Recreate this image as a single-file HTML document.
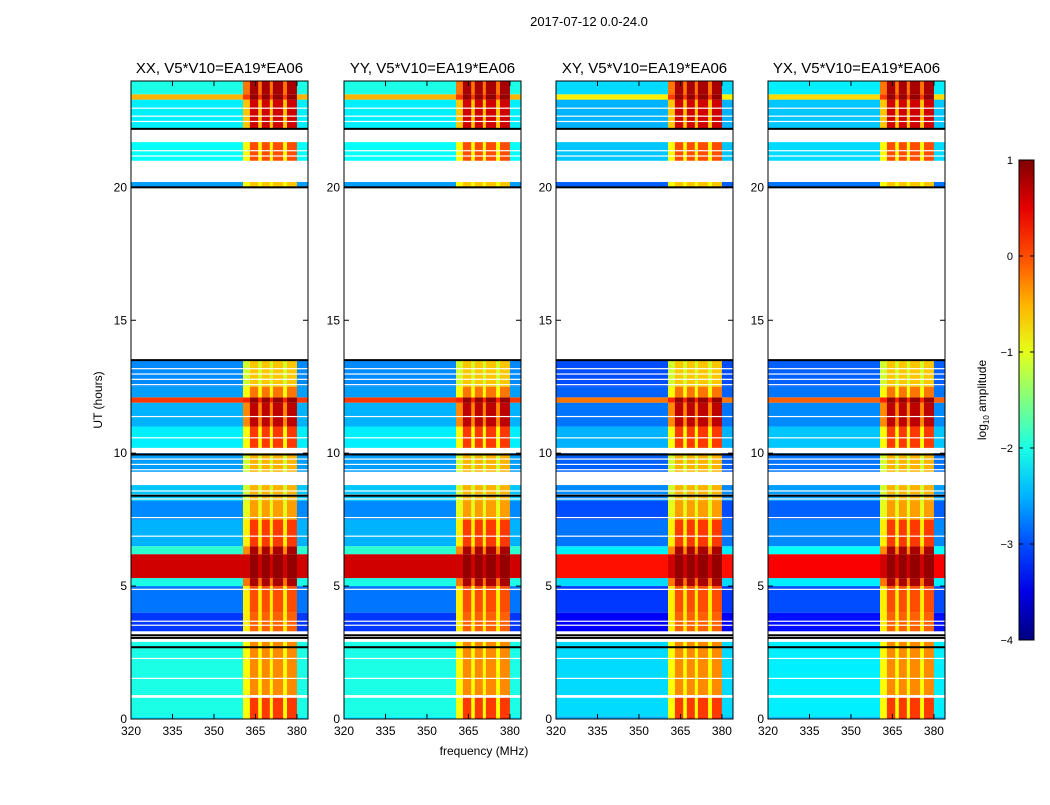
<!DOCTYPE html>
<html><head><meta charset="utf-8"><style>
body{margin:0;background:#fff;font-family:"Liberation Sans",sans-serif;}
svg text{font-family:"Liberation Sans",sans-serif;}
</style></head><body>
<svg id="chart" width="1050" height="800" xmlns="http://www.w3.org/2000/svg">
<rect width="1050" height="800" fill="#fff"/>
<text x="589" y="26" font-size="13" text-anchor="middle">2017-07-12 0.0-24.0</text>
<g id="panels"></g>
<text x="484" y="755" font-size="12" text-anchor="middle">frequency (MHz)</text>
<text transform="translate(102,400) rotate(-90)" font-size="12" text-anchor="middle">UT (hours)</text>
<g id="cbar"></g>
</svg>
<script>
const panelTitles=["XX, V5*V10=EA19*EA06","YY, V5*V10=EA19*EA06","XY, V5*V10=EA19*EA06","YX, V5*V10=EA19*EA06"];
const panelLeft=[131,344,556,768];
const bgOffset=[0,0,-0.3,-0.2];
const freqEdges=[320,360.5,363,366,367.3,370.2,371.3,375,376.4,380,384];
const colType=[0,1,2,1,2,1,2,1,2,0];
const rowStart=[0,0.1,0.9,3.3,4.0,5.0,5.3,6.2,6.5,7.5,8.2,9.3,10.2,11.0,11.9,12.1,12.5,20.0,21.0,22.2,23.3,23.5];
const rowEnd=[0.1,0.8,2.9,4.0,5.0,5.3,6.2,6.5,7.5,8.2,8.8,10.0,11.0,11.9,12.1,12.5,13.5,20.2,21.7,23.3,23.5,24.0];
const rowBg=[-2.2,-2.0,-2.0,-3.1,-2.8,-2.0,0.6,-1.9,-2.5,-2.7,-2.4,-2.6,-2.2,-2.5,0.1,-2.6,-2.7,-2.6,-2.1,-2.2,-0.5,-2.0];
const rowRfi=[0.2,0.1,-0.3,-0.1,0,0.8,0.9,0.8,0.1,-0.4,-0.5,-0.5,0.1,0.7,0.9,-0.2,-0.6,-0.6,0,0.6,0.9,0.8];
const rowGap=[-0.8,-0.9,-0.9,-0.8,-0.8,-0.2,0.6,-0.3,-0.8,-1,-1.1,-1.1,-0.9,-0.3,0.2,-0.9,-1.1,-0.9,-0.9,-0.6,0.1,-0.2];
const whiteLines=[0.85,1.55,2.3,3.55,3.7,4.9,6.9,7.6,8.3,8.45,8.6,9.4,9.6,9.8,10.6,11.4,12.6,12.8,13.0,13.2,21.2,21.4,22.5,22.7,23.0];
const blackLines=[3.05,3.15,2.7,8.4,9.95,13.5,20.0,22.2];
const yTicks=[0,5,10,15,20];
const xTicks=[320,335,350,365,380];
const cbTicks=[1,0,-1,-2,-3,-4];

const NS="http://www.w3.org/2000/svg";
const yTop=81,yBot=719,pW=177;
function y(h){return yBot-(h/24)*(yBot-yTop);}
function xs(f,L){return L+(f-320)/64*pW;}
function jet(v){let t=(v+4)/5;t=Math.max(0,Math.min(1,t));
 const c=x=>Math.round(255*Math.max(0,Math.min(1,1.5-Math.abs(4*t-x))));
 return `rgb(${c(3)},${c(2)},${c(1)})`;}
function mk(tag,attrs,parent){const e=document.createElementNS(NS,tag);for(const k in attrs)e.setAttribute(k,attrs[k]);parent.appendChild(e);return e;}
const panels=document.getElementById('panels');
panelLeft.forEach((L,p)=>{
 const g=mk('g',{},panels);
 
 
 for(let r=0;r<rowStart.length;r++){
  for(let c=0;c<colType.length;c++){
   const v=colType[c]==0?rowBg[r]+bgOffset[p]:(colType[c]==1?rowGap[r]:rowRfi[r]);
   const x0=xs(freqEdges[c],L),x1=xs(freqEdges[c+1],L);
   const rc=mk('rect',{x:x0,y:y(rowEnd[r]),width:x1-x0+0.3,height:y(rowStart[r])-y(rowEnd[r]),fill:jet(v)},g);
   
   
  }
 }
 whiteLines.forEach(h=>mk('rect',{x:L,y:y(h),width:pW,height:1.2,fill:'#fff'},g));
 blackLines.forEach(h=>mk('rect',{x:L,y:y(h)-1,width:pW,height:2,fill:'#000'},g));
 mk('rect',{x:L,y:yTop,width:pW,height:yBot-yTop,fill:'none',stroke:'#000','stroke-width':1},g);
 const t=mk('text',{x:L+pW/2,y:73,'font-size':15,'text-anchor':'middle'},g);t.textContent=panelTitles[p];
 
 
 yTicks.forEach(v=>{mk('line',{x1:L,x2:L+5,y1:y(v),y2:y(v),stroke:'#000'},g);mk('line',{x1:L+pW-5,x2:L+pW,y1:y(v),y2:y(v),stroke:'#000'},g);
  const tt=mk('text',{x:L-4,y:y(v)+4,'font-size':12,'text-anchor':'end'},g);tt.textContent=v;
  
  });
 xTicks.forEach(v=>{const X=xs(v,L);mk('line',{x1:X,x2:X,y1:yBot,y2:yBot-5,stroke:'#000'},g);mk('line',{x1:X,x2:X,y1:yTop,y2:yTop+5,stroke:'#000'},g);
  const tt=mk('text',{x:X,y:735,'font-size':12,'text-anchor':'middle'},g);tt.textContent=v;
  
  });
});
const cb=document.getElementById('cbar');
const defs=mk('defs',{},cb);const gr=mk('linearGradient',{id:'jg',x1:0,y1:1,x2:0,y2:0},defs);
for(let i=0;i<=10;i++){mk('stop',{offset:i/10,'stop-color':jet(-4+i*0.5)},gr);}
mk('rect',{x:1019,y:160,width:15,height:480,fill:'url(#jg)',stroke:'#000'},cb);
cbTicks.forEach(v=>{const Y=160+(1-v)*96;mk('line',{x1:1019,x2:1023,y1:Y,y2:Y,stroke:'#000'},cb);mk('line',{x1:1030,x2:1034,y1:Y,y2:Y,stroke:'#000'},cb);
 const tt=mk('text',{x:1013,y:Y+4,'font-size':11,'text-anchor':'end'},cb);tt.textContent=v<0?'\u2212'+(-v):v;
 
 });
const lab=mk('text',{transform:'translate(986,400) rotate(-90)','font-size':12,'text-anchor':'middle'},cb);
lab.innerHTML='log<tspan font-size="8" dy="3">10</tspan><tspan dy="-3"> amplitude</tspan>';


</script>
</body></html>
